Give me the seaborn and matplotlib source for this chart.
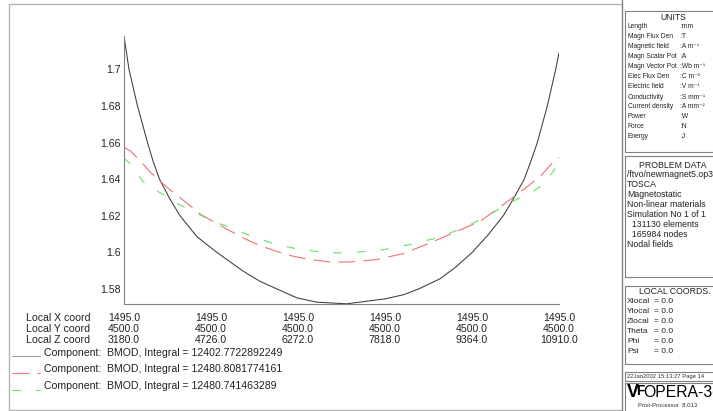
import matplotlib
matplotlib.use("Agg")
import matplotlib.pyplot as plt
import matplotlib.transforms as mtransforms
from matplotlib.lines import Line2D
from matplotlib.patches import Rectangle
import seaborn as sns

# ── data ────────────────────────────────────────────────────────────────────
tick_x = [1495.0, 1495.0, 1495.0, 1495.0, 1495.0, 1495.0]
tick_y = [4500.0, 4500.0, 4500.0, 4500.0, 4500.0, 4500.0]
tick_z = [3180.0, 4726.0, 6272.0, 7818.0, 9364.0, 10910.0]
y_ticks = [1.58, 1.6, 1.62, 1.64, 1.66, 1.68, 1.7]

z_black = [3180, 3269, 3420, 3598, 3695, 3811, 3989, 4175, 4477, 4827, 5300,
           5597, 5893, 6249, 6604, 7138, 7818, 8150, 8420, 8795, 9080, 9369,
           9650, 9920, 10104, 10293, 10412, 10524, 10702, 10851, 10910]
bmod_black = [1.7182, 1.7000, 1.6800, 1.6600, 1.6500, 1.6400, 1.6295, 1.6200,
              1.6085, 1.6000, 1.5896, 1.5841, 1.5800, 1.5751, 1.5727, 1.5718,
              1.5745, 1.5768, 1.5800, 1.5855, 1.5920, 1.6000, 1.6095, 1.6200,
              1.6295, 1.6400, 1.6500, 1.6600, 1.6800, 1.7000, 1.7091]

z_red = [3180, 3305, 3424, 3665, 3962, 4259, 4555, 4708, 4970, 5300, 5597,
         5893, 6189, 6485, 6841, 7196, 7671, 8143, 8618, 9092, 9506, 9920,
         10276, 10572, 10869, 10910]
bmod_red = [1.6575, 1.6551, 1.6514, 1.6433, 1.6351, 1.6278, 1.6205, 1.6178,
            1.6133, 1.6078, 1.6036, 1.6005, 1.5978, 1.5960, 1.5947, 1.5947,
            1.5960, 1.5993, 1.6051, 1.6114, 1.6169, 1.6260, 1.6342, 1.6414,
            1.6514, 1.6518]

z_green = [3180, 3281, 3518, 3637, 3932, 4051, 4348, 4466, 4791, 4939, 5300,
           5774, 6249, 6722, 7018, 7315, 7788, 8262, 8737, 9209, 9625, 10039,
           10395, 10631, 10910]
bmod_green = [1.6514, 1.6487, 1.6387, 1.6360, 1.6305, 1.6278, 1.6233, 1.6215,
              1.6163, 1.6151, 1.6105, 1.6054, 1.6018, 1.6000, 1.5996, 1.6000,
              1.6014, 1.6042, 1.6078, 1.6133, 1.6196, 1.6272, 1.6323, 1.6369,
              1.6487]

integrals = ["12402.7722892249", "12480.8081774161", "12480.741463289"]

units_rows = [("Length", ":mm"), ("Magn Flux Den", ":T"),
              ("Magnetic field", ":A m\u207b\u00b9"), ("Magn Scalar Pot", ":A"),
              ("Magn Vector Pot", ":Wb m\u207b\u00b9"), ("Elec Flux Den", ":C m\u207b\u00b2"),
              ("Electric field", ":V m\u207b\u00b9"), ("Conductivity", ":S mm\u207b\u00b9"),
              ("Current density", ":A mm\u207b\u00b2"), ("Power", ":W"),
              ("Force", ":N"), ("Energy", ":J")]
problem_rows = ["/ftvo/newmagnet5.op3", "TOSCA", "Magnetostatic",
                "Non-linear materials", "Simulation No 1 of 1",
                "  131130 elements", "  165984 nodes", "Nodal fields"]
local_rows = ["Xlocal", "Ylocal", "Zlocal", "Theta", "Phi", "Psi"]

# ── style ──────────────────────────────────────────────────────────────────
sns.set_style("white")
plt.rcParams["font.family"] = ["Liberation Sans", "DejaVu Sans"]
plt.rcParams["lines.scale_dashes"] = False

W, H = 713, 411


def fx(x):
    return x / W


def fy(y):
    return 1 - y / H


fig = plt.figure(figsize=(W / 100, H / 100), dpi=100)
ax = fig.add_axes([fx(124), fy(304), (559 - 124) / W, (304 - 36) / H])

series = [
    (z_black, bmod_black, "#3c3c3c", 0.75, "-"),
    (z_red, bmod_red, "#f07070", 0.8, (0, (12, 6))),
    (z_green, bmod_green, "#66e066", 0.8, (0, (6, 11))),
]
for zs, vals, col, lw, ls in series:
    sns.lineplot(x=zs, y=vals, ax=ax, color=col, linewidth=lw, linestyle=ls)

ax.set_xlim(3180, 10910)
ax.set_ylim(1.5717, 1.7183)
ax.set_xticks(tick_z)
ax.set_xticklabels([])
ax.set_yticks(y_ticks)
ax.set_yticklabels([f"{v:g}" for v in y_ticks])
ax.tick_params(axis="x", direction="in", length=4, width=0.7, color="#808080")
ax.tick_params(axis="y", direction="in", length=6, width=0.7, color="#808080",
               labelsize=7.6, pad=2.5, labelcolor="#222222")
for side in ["top", "right"]:
    ax.spines[side].set_visible(False)
for side in ["left", "bottom"]:
    ax.spines[side].set_color("#808080")
    ax.spines[side].set_linewidth(0.8)
ax.set_xlabel("")
ax.set_ylabel("")

# ── coordinate table under the axis ──────────────────────────────────────
blend = mtransforms.blended_transform_factory(ax.transData, fig.transFigure)
row_y = [318.3, 329.3, 340.3]
for label, vals, ry in zip(["Local X coord", "Local Y coord", "Local Z coord"],
                           [tick_x, tick_y, tick_z], row_y):
    fig.text(fx(26), fy(ry), label, fontsize=7.6, va="center", ha="left",
             color="#222222")
    for zpos, v in zip(tick_z, vals):
        ax.text(zpos, fy(ry), f"{v:.1f}", transform=blend, fontsize=7.6,
                ha="center", va="center", color="#222222")

# ── component legend ──────────────────────────────────────────────────────
text_y = [352.7, 369.3, 386.0]
line_y = [356.0, 372.7, 390.0]
for (zs, vals, col, lw, ls), integ, ty, ly in zip(series, integrals, text_y, line_y):
    sample_col = "#9a9a9a" if ls == "-" else col
    fig.add_artist(Line2D([fx(12), fx(40)], [fy(ly), fy(ly)], color=sample_col,
                          linewidth=lw, linestyle=ls))
    fig.text(fx(44.3), fy(ty), f"Component:  BMOD, Integral = {integ}",
             fontsize=7.6, va="center", ha="left", color="#222222")

# ── page frame ────────────────────────────────────────────────────────────
frame_col = "#b4b4b4"
for (x0, y0, x1, y1) in [(9, 4, 622, 4), (9, 4, 9, 410), (9, 410, 622, 410)]:
    fig.add_artist(Line2D([fx(x0), fx(x1)], [fy(y0), fy(y1)], color=frame_col,
                          linewidth=1.0))
fig.add_artist(Line2D([fx(622), fx(622)], [fy(0), fy(411)], color="#808080",
                      linewidth=1.0))

for (top, bottom) in [(11, 152), (156, 277), (286, 364), (372, 381), (383, 415)]:
    fig.add_artist(Rectangle((fx(625), fy(bottom)), 100 / W, (bottom - top) / H,
                             transform=fig.transFigure, fill=False,
                             edgecolor="#808080", linewidth=0.8))

# UNITS box
fig.text(fx(673), fy(17.5), "UNITS", fontsize=6.2, ha="center", va="center",
         color="#222222")
for i, (name, unit) in enumerate(units_rows):
    yy = 27 + i * 10.0
    fig.text(fx(628), fy(yy), name, fontsize=4.8, va="center", color="#222222")
    fig.text(fx(680), fy(yy), unit, fontsize=4.8, va="center", color="#222222")

# PROBLEM DATA box
fig.text(fx(673), fy(165), "PROBLEM DATA", fontsize=6.3, ha="center",
         va="center", color="#222222")
for i, line in enumerate(problem_rows):
    fig.text(fx(627), fy(174.8 + i * 10.0), line, fontsize=6.3, va="center",
             color="#222222")

# LOCAL COORDS box
fig.text(fx(675), fy(291.7), "LOCAL COORDS.", fontsize=6.3, ha="center",
         va="center", color="#222222")
for i, name in enumerate(local_rows):
    yy = 301.7 + i * 10.0
    fig.text(fx(627), fy(yy), name, fontsize=6.0, va="center", color="#222222")
    fig.text(fx(654), fy(yy), "= 0.0", fontsize=6.0, va="center", color="#222222")

# date / logo
fig.text(fx(627), fy(376.5), "22Jan2002 15:13:27 Page 14", fontsize=4.2,
         va="center", color="#333333")
fig.text(fx(627), fy(392.5), "V", fontsize=13, fontweight="bold", va="center",
         color="black")
fig.text(fx(636.5), fy(391), "F", fontsize=10, fontweight="bold", va="center",
         color="black")
fig.text(fx(643.5), fy(392), "OPERA-3d", fontsize=11.3, va="center",
         color="black")
fig.text(fx(667.5), fy(405), "Post-Processor  8.013", fontsize=4.3,
         ha="center", va="center", color="#333333")

fig.savefig("out.png", dpi=100)
